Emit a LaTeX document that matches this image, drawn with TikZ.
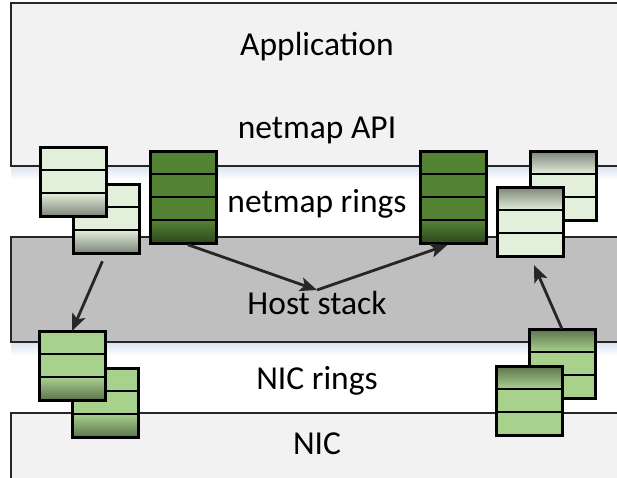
\documentclass[tikz,border=0pt]{standalone}
\usepackage{fontspec}
\setmainfont{Carlito}
\definecolor{appfill}{HTML}{F2F2F2}
\definecolor{hostfill}{HTML}{BFBFBF}
\definecolor{edge}{HTML}{262626}
\definecolor{glow}{HTML}{DCE5F1}
\definecolor{palegreen}{HTML}{E2EFDA}
\definecolor{midgreen}{HTML}{A9D18E}
\definecolor{deepgreen}{HTML}{548235}
\usetikzlibrary{arrows.meta, shadows}
\tikzset{
  layer/.style={draw=edge, line width=1.6pt},
  ring/.style={draw=black, line width=3pt, inner sep=0pt, outer sep=0pt, minimum width=66pt,
               anchor=north west, drop shadow={opacity=.25, shadow xshift=1.5pt, shadow yshift=-1.5pt}},
  slot/.style={black, line width=2.4pt},
  move/.style={-{Stealth[length=17pt, width=14pt, inset=4pt]}, line width=2.8pt, color=edge},
  lbl/.style={font=\fontsize{33.5}{40}\selectfont, anchor=base, text=black},
}

% #1 name, #2 x, #3 y, #4 slots, #5 colour, #6 1 = top slot shaded, 0 = bottom slot shaded
\newcommand{\ringstack}[6]{%
  \node[ring, fill=#5, minimum height={#4*23pt}] (#1) at (#2,#3) {};
  \ifnum#6=1
    \shade[top color=#5!55!black, middle color=#5!88!black, bottom color=#5] (#1.north west) rectangle ([yshift=-23pt]#1.north east);
  \else
    \shade[top color=#5, middle color=#5!88!black, bottom color=#5!55!black] ([yshift=23pt]#1.south west) rectangle (#1.south east);
  \fi
  \pgfmathtruncatemacro\lastslot{#4-1}
  \foreach \k in {1,...,\lastslot}
    \draw[slot] ([yshift=-\k*23pt]#1.north west) -- ([yshift=-\k*23pt]#1.north east);
  \draw[line width=3pt] (#1.north west) rectangle (#1.south east);
}

\begin{document}
\begin{tikzpicture}[x=1pt, y=-1pt]
\clip (0,0) rectangle (617,477);
\fill[white] (0,0) rectangle (617,477);

% layers
\draw[layer, fill=appfill] (11,3) rectangle (640,166);
\draw[layer, fill=hostfill] (11,237) rectangle (640,342);
\draw[layer, fill=appfill] (11,413) rectangle (640,500);
\shade[top color=glow, bottom color=white] (11,167) rectangle (617,180);
\shade[top color=glow, bottom color=white] (11,343) rectangle (617,356);

\node[lbl] (app) at (317,55) {Application};
\node[lbl] (api) at (317,138) {netmap API};
\node[lbl] (nmr) at (317,212) {netmap rings};
\node[lbl] (host) at (317,314) {Host stack};
\node[lbl] (nicr) at (317,389) {NIC rings};
\node[lbl] (nic) at (317,454) {NIC};

% netmap rings
\ringstack{ua2}{73}{184}{3}{palegreen}{0}
\ringstack{ua1}{40}{147}{3}{palegreen}{0}
\ringstack{dl}{150}{151}{4}{deepgreen}{0}
\ringstack{dr}{420}{151}{4}{deepgreen}{0}
\ringstack{rb}{530}{151}{3}{palegreen}{1}
\ringstack{rf}{497}{187}{3}{palegreen}{1}

% NIC rings
\ringstack{nl2}{72}{368}{3}{midgreen}{0}
\ringstack{nl1}{39}{331}{3}{midgreen}{0}
\ringstack{nr1}{529}{329}{3}{midgreen}{1}
\ringstack{nr2}{496}{366}{3}{midgreen}{1}

\coordinate (dip) at (317,290);
\draw[move, shorten <=9pt] (ua2.south) -- (nl1.north);
\draw[move, shorten <=5pt] (dl.south) -- (dip);
\draw[move, shorten >=6pt] (dip) -- (dr.south);
\draw[move, shorten >=10pt] (nr1.north) -- (rf.south);
\end{tikzpicture}
\end{document}
